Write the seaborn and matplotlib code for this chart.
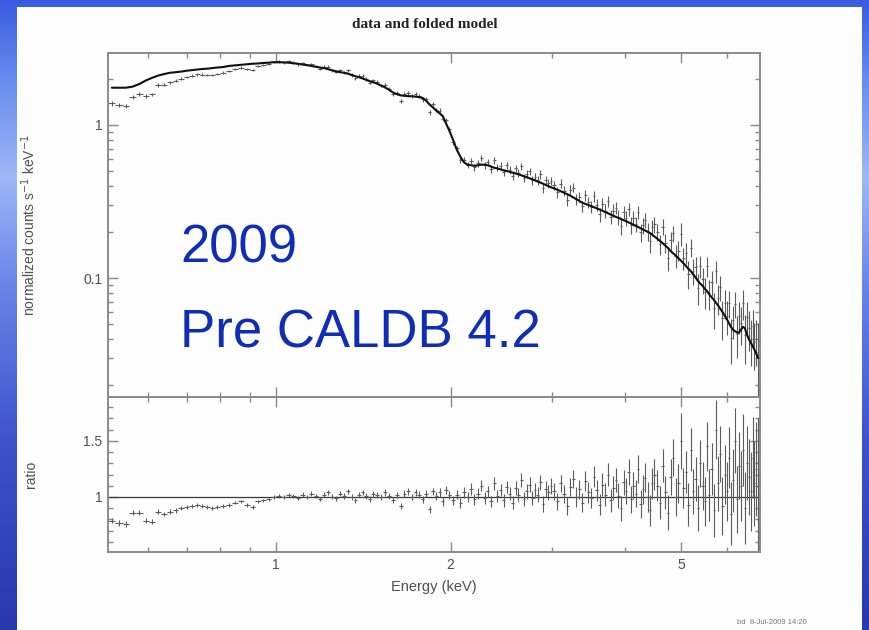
import numpy as np
import pandas as pd
import matplotlib
matplotlib.use("Agg")
import matplotlib.pyplot as plt
from matplotlib.patches import Rectangle
from matplotlib.ticker import FixedLocator, FuncFormatter, NullFormatter
import seaborn as sns

sns.set_theme(style="ticks")
plt.rcParams["font.family"] = ["Liberation Sans", "DejaVu Sans"]

# ---------------- spectrum (bin centres in keV) ----------------
energy_soft = [0.52, 0.535, 0.55, 0.565, 0.58, 0.595, 0.61, 0.625, 0.64, 0.655,
               0.67, 0.685, 0.70, 0.715, 0.73, 0.745, 0.76, 0.775, 0.79, 0.81,
               0.83, 0.85, 0.87, 0.89, 0.91, 0.93, 0.95, 0.97, 0.99]
model_soft = [1.75, 1.75, 1.75, 1.78, 1.85, 1.95, 2.03, 2.10, 2.15, 2.19,
              2.21, 2.23, 2.26, 2.28, 2.30, 2.32, 2.33, 2.35, 2.37, 2.39,
              2.43, 2.45, 2.47, 2.49, 2.51, 2.52, 2.54, 2.55, 2.57]
ratio_soft = [0.79, 0.77, 0.76, 0.86, 0.86, 0.79, 0.78, 0.87, 0.85, 0.87,
              0.88, 0.90, 0.91, 0.92, 0.93, 0.92, 0.91, 0.90, 0.91, 0.92,
              0.93, 0.95, 0.96, 0.93, 0.91, 0.96, 0.97, 0.98, 1.00]
err_soft = [0.025, 0.025, 0.025, 0.025, 0.022, 0.022, 0.022, 0.022, 0.02, 0.02,
            0.02, 0.02, 0.02, 0.018, 0.018, 0.018, 0.018, 0.018, 0.018, 0.016,
            0.016, 0.016, 0.016, 0.016, 0.016, 0.015, 0.015, 0.015, 0.015]

energy_mid = [1.01, 1.03, 1.05, 1.07, 1.09, 1.11, 1.13, 1.15, 1.17, 1.19,
              1.21, 1.23, 1.25, 1.27, 1.29, 1.31, 1.33, 1.35, 1.37, 1.39,
              1.41, 1.43, 1.45, 1.47, 1.49, 1.515, 1.54, 1.565, 1.59, 1.615,
              1.64, 1.665, 1.69, 1.715, 1.74, 1.765, 1.79, 1.815, 1.84, 1.865,
              1.89, 1.915, 1.94, 1.965, 1.99]
model_mid = [2.57, 2.56, 2.55, 2.53, 2.51, 2.48, 2.46, 2.43, 2.40, 2.37,
             2.35, 2.31, 2.27, 2.24, 2.21, 2.19, 2.16, 2.12, 2.08, 2.05,
             2.01, 1.97, 1.93, 1.90, 1.87, 1.81, 1.76, 1.70, 1.63, 1.59,
             1.56, 1.55, 1.54, 1.54, 1.53, 1.52, 1.50, 1.44, 1.36, 1.30,
             1.24, 1.19, 1.14, 1.02, 0.92]
ratio_mid = [1.01, 1.00, 1.02, 1.01, 0.99, 1.02, 1.00, 1.03, 1.01, 0.98,
             1.02, 1.04, 1.00, 0.99, 1.03, 1.01, 1.05, 1.00, 0.97, 1.02,
             1.04, 1.01, 0.98, 1.03, 1.02, 1.00, 1.04, 1.01, 0.97, 1.02,
             0.92, 1.03, 1.05, 1.00, 1.04, 1.02, 0.98, 1.03, 0.89, 1.05,
             1.01, 1.04, 0.96, 1.06, 1.02]
err_mid = [0.018, 0.018, 0.018, 0.018, 0.018, 0.02, 0.02, 0.02, 0.02, 0.02,
           0.022, 0.022, 0.022, 0.022, 0.022, 0.024, 0.024, 0.024, 0.024, 0.024,
           0.026, 0.026, 0.026, 0.026, 0.026, 0.028, 0.028, 0.028, 0.028, 0.028,
           0.03, 0.03, 0.03, 0.03, 0.03, 0.033, 0.033, 0.033, 0.033, 0.033,
           0.036, 0.036, 0.036, 0.036, 0.036]

energy_hard = [2.02, 2.05, 2.08, 2.11, 2.14, 2.17, 2.20, 2.23, 2.26, 2.29,
               2.32, 2.35, 2.38, 2.41, 2.44, 2.47, 2.50, 2.53, 2.56, 2.59,
               2.62, 2.65, 2.68, 2.71, 2.74, 2.77, 2.80, 2.83, 2.86, 2.89,
               2.92, 2.95, 2.98,
               3.02, 3.06, 3.10, 3.14, 3.18, 3.22, 3.26, 3.30, 3.34, 3.38,
               3.42, 3.46, 3.50, 3.54, 3.58, 3.62, 3.66, 3.70, 3.74, 3.78,
               3.82, 3.86, 3.90, 3.94, 3.98, 4.02, 4.06, 4.10, 4.14, 4.18,
               4.22, 4.26, 4.30, 4.34, 4.38, 4.42, 4.46, 4.50,
               4.55, 4.60, 4.65, 4.70, 4.75, 4.80, 4.85, 4.90, 4.95, 5.00,
               5.05, 5.10, 5.15, 5.20, 5.25, 5.30, 5.35, 5.40, 5.45, 5.50,
               5.55, 5.60, 5.65, 5.70, 5.75, 5.80, 5.85, 5.90, 5.95, 6.00,
               6.05, 6.10, 6.15, 6.20, 6.25, 6.30, 6.35, 6.40, 6.45, 6.50,
               6.55, 6.60, 6.65, 6.70, 6.75, 6.80]
model_hard = [0.80, 0.69, 0.62, 0.57, 0.55, 0.545, 0.54, 0.545, 0.55, 0.55,
              0.545, 0.535, 0.525, 0.52, 0.512, 0.505, 0.50, 0.494, 0.488, 0.482,
              0.476, 0.469, 0.462, 0.455, 0.448, 0.441, 0.434, 0.427, 0.420, 0.413,
              0.406, 0.399, 0.392,
              0.385, 0.377, 0.369, 0.361, 0.353, 0.345, 0.336, 0.327, 0.318, 0.310,
              0.305, 0.300, 0.295, 0.290, 0.285, 0.280, 0.275, 0.270, 0.265, 0.260,
              0.255, 0.251, 0.247, 0.243, 0.239, 0.235, 0.231, 0.227, 0.223, 0.219,
              0.215, 0.211, 0.207, 0.204, 0.201, 0.197, 0.192, 0.187,
              0.181, 0.175, 0.169, 0.163, 0.157, 0.150, 0.145, 0.140, 0.135, 0.130,
              0.125, 0.120, 0.115, 0.111, 0.106, 0.101, 0.096, 0.092, 0.089, 0.085,
              0.082, 0.078, 0.075, 0.072, 0.069, 0.066, 0.063, 0.060, 0.057, 0.054,
              0.051, 0.048, 0.046, 0.045, 0.044, 0.044, 0.046, 0.048, 0.047, 0.043,
              0.040, 0.038, 0.036, 0.034, 0.032, 0.030]
ratio_hard = [0.97, 1.02, 0.95, 1.04, 1.00, 1.07, 0.98, 1.03, 1.10, 0.99,
              1.05, 0.96, 1.12, 1.01, 1.06, 0.97, 1.09, 1.03, 0.95, 1.08,
              1.02, 1.15, 0.98, 1.05, 1.11, 0.99, 1.06, 1.02, 1.13, 0.94,
              1.07, 1.04, 1.10,
              1.05, 0.96, 1.12, 1.03, 0.92, 1.09, 1.16, 1.00, 1.07, 0.95,
              1.14, 1.04, 0.99, 1.18, 1.06, 0.93, 1.11, 1.02, 1.20, 0.97,
              1.08, 1.15, 1.01, 0.90, 1.13, 1.05, 1.22, 0.98, 1.10, 1.03,
              1.25, 0.94, 1.07, 1.17, 1.00, 0.88, 1.12, 1.20,
              1.10, 0.95, 1.28, 1.04, 0.86, 1.18, 1.35, 1.00, 1.12, 1.50,
              1.08, 1.22, 0.93, 1.42, 1.05, 1.16, 0.90, 1.30, 1.10, 0.96,
              1.45, 1.02, 1.25, 0.88, 1.60, 1.12, 1.38, 0.92, 1.20, 1.05,
              1.35, 0.85, 1.15, 1.50, 0.98, 1.28, 1.10, 1.42, 0.90, 1.30,
              1.18, 1.05, 1.35, 1.12, 1.25, 1.10]
err_hard = [0.04, 0.04, 0.045, 0.045, 0.045, 0.05, 0.05, 0.05, 0.05, 0.05,
            0.05, 0.05, 0.055, 0.055, 0.055, 0.055, 0.055, 0.06, 0.06, 0.06,
            0.06, 0.06, 0.06, 0.065, 0.065, 0.065, 0.065, 0.065, 0.07, 0.07,
            0.07, 0.07, 0.07,
            0.075, 0.075, 0.075, 0.08, 0.08, 0.08, 0.08, 0.085, 0.085, 0.085,
            0.09, 0.09, 0.09, 0.095, 0.095, 0.095, 0.10, 0.10, 0.10, 0.10,
            0.105, 0.105, 0.11, 0.11, 0.11, 0.115, 0.115, 0.12, 0.12, 0.12,
            0.125, 0.125, 0.13, 0.13, 0.13, 0.135, 0.135, 0.14,
            0.14, 0.145, 0.15, 0.15, 0.155, 0.16, 0.165, 0.17, 0.17, 0.25,
            0.18, 0.185, 0.19, 0.19, 0.2, 0.2, 0.205, 0.21, 0.215, 0.22,
            0.22, 0.23, 0.23, 0.235, 0.26, 0.245, 0.25, 0.26, 0.26, 0.265,
            0.27, 0.28, 0.28, 0.29, 0.3, 0.3, 0.31, 0.32, 0.32, 0.33,
            0.34, 0.35, 0.36, 0.38, 0.42, 0.6]

x_ticks = [1, 2, 5]
x_minor = [0.6, 0.7, 0.8, 0.9, 3, 4, 6]
y_ticks_top = [0.1, 1]
y_ticks_ratio = [1, 1.5]

# ---------------- assemble table ----------------
df = pd.DataFrame({
    "energy": energy_soft + energy_mid + energy_hard,
    "model": model_soft + model_mid + model_hard,
    "ratio": ratio_soft + ratio_mid + ratio_hard,
    "err": err_soft + err_mid + err_hard,
})
df["counts"] = df["model"] * df["ratio"]
df["counts_err"] = df["model"] * df["err"]

e = df["energy"].to_numpy()
edges = np.concatenate(([e[0] - (e[1] - e[0]) / 2], (e[1:] + e[:-1]) / 2,
                        [e[-1] + (e[-1] - e[-2]) / 2]))
xerr = np.vstack([e - edges[:-1], edges[1:] - e])

# ---------------- figure and slide background ----------------
W, H = 870, 630
fig = plt.figure(figsize=(W / 100, H / 100), dpi=100)

bg = fig.add_axes([0, 0, 1, 1], zorder=-10)
stops = np.array([0.0, 0.12, 0.28, 0.45, 0.7, 1.0])
cols = np.array([[0.22, 0.36, 0.88],
                 [0.40, 0.54, 0.94],
                 [0.62, 0.72, 0.97],
                 [0.42, 0.52, 0.92],
                 [0.24, 0.32, 0.80],
                 [0.16, 0.22, 0.68]])
yy = np.linspace(0, 1, 300)
grad = np.stack([np.interp(yy, stops, cols[:, k]) for k in range(3)], axis=-1)
bg.imshow(grad[:, None, :], aspect="auto", extent=[0, 1, 0, 1], origin="upper")
bg.add_patch(Rectangle((17 / W, 0), (862 - 17) / W, (H - 7) / H,
                       facecolor="#fdfdfd", edgecolor="none"))
bg.set_xlim(0, 1)
bg.set_ylim(0, 1)
bg.axis("off")

ax1 = fig.add_axes([108 / W, 1 - 397 / H, 652 / W, 344 / H])
ax2 = fig.add_axes([108 / W, 1 - 552 / H, 652 / W, 155 / H])

frame = "#8a8a8a"
label_col = "#505050"

for ax in (ax1, ax2):
    ax.set_facecolor("none")
    ax.set_xscale("log")
ax1.set_yscale("log")

# ---------------- upper panel: data and folded model ----------------
ax1.errorbar(df["energy"], df["counts"], xerr=xerr, yerr=df["counts_err"],
             fmt="none", ecolor="#5c5c5c", elinewidth=0.8, capsize=0, zorder=2)
sns.lineplot(data=df, x="energy", y="model", ax=ax1, color="#111111",
             linewidth=1.5, estimator=None, sort=False, zorder=3)

# ---------------- lower panel: ratio ----------------
ax2.axhline(1.0, color="#3a3a3a", linewidth=0.9, zorder=1)
ax2.errorbar(df["energy"], df["ratio"], xerr=xerr, yerr=df["err"],
             fmt="none", ecolor="#5c5c5c", elinewidth=0.8, capsize=0, zorder=2)

# ---------------- axes styling ----------------
for ax in (ax1, ax2):
    ax.set_xlim(0.512, 6.85)
    ax.xaxis.set_major_locator(FixedLocator(x_ticks))
    ax.xaxis.set_minor_locator(FixedLocator(x_minor))
    ax.xaxis.set_minor_formatter(NullFormatter())
    ax.tick_params(which="both", direction="in", top=True, right=True,
                   color=frame, width=1.0, labelcolor=label_col, labelsize=10,
                   pad=4)
    ax.tick_params(which="major", length=7)
    ax.tick_params(which="minor", length=3.5)
    for s in ax.spines.values():
        s.set_color(frame)
        s.set_linewidth(1.4)
    ax.set_xlabel("")
    ax.set_ylabel("")

ax1.xaxis.set_major_formatter(NullFormatter())
ax2.xaxis.set_major_formatter(FuncFormatter(lambda v, p: f"{v:g}"))

ax1.set_ylim(0.0167, 2.95)
ax1.yaxis.set_major_locator(FixedLocator(y_ticks_top))
ax1.yaxis.set_minor_locator(FixedLocator(
    [m * d for d in (0.01, 0.1) for m in range(2, 10)] + [2]))
ax1.yaxis.set_major_formatter(FuncFormatter(lambda v, p: f"{v:g}"))
ax1.yaxis.set_minor_formatter(NullFormatter())

ax2.set_ylim(0.51, 1.89)
ax2.yaxis.set_major_locator(FixedLocator(y_ticks_ratio))
ax2.yaxis.set_minor_locator(FixedLocator(
    [0.6, 0.7, 0.8, 0.9, 1.1, 1.2, 1.3, 1.4, 1.6, 1.7, 1.8]))
ax2.yaxis.set_major_formatter(FuncFormatter(lambda v, p: f"{v:g}"))
ax2.yaxis.set_minor_formatter(NullFormatter())

ax1.set_ylabel("normalized counts s$^{-1}$ keV$^{-1}$", fontsize=10,
               color=label_col)
ax1.yaxis.set_label_coords((38 - 108) / 652, 0.5)
ax2.set_ylabel("ratio", fontsize=10, color=label_col)
ax2.yaxis.set_label_coords((38 - 108) / 652, 0.5)
ax2.set_xlabel("Energy (keV)", fontsize=10.5, color=label_col, labelpad=6)

# ---------------- text ----------------
fig.text(425 / W, 1 - 25 / H, "data and folded model", ha="center",
         va="center", fontsize=11, fontweight="bold",
         family=["Liberation Serif", "DejaVu Serif"], color="#222222")
fig.text(180 / W, 1 - 262 / H, "2009", ha="left", va="baseline",
         fontsize=38, color="#0f2db6")
fig.text(180 / W, 1 - 348 / H, "Pre CALDB 4.2", ha="left", va="baseline",
         fontsize=38, color="#0f2db6")
fig.text(737 / W, 1 - 623 / H, "bd  8-Jul-2009 14:20", ha="left",
         va="center", fontsize=5.5, color="#777777")

fig.savefig("out.png", dpi=100)
